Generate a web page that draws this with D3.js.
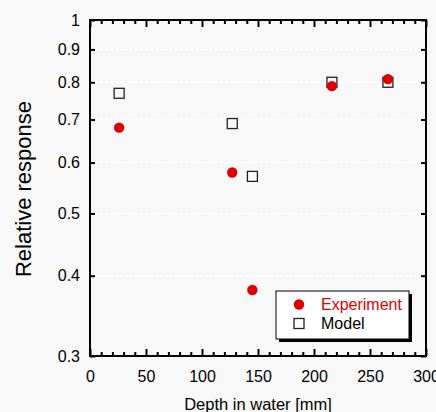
<!DOCTYPE html>
<html>
<head>
<meta charset="utf-8">
<script src="https://cdn.jsdelivr.net/npm/d3@7"></script>
<style>
  html, body { margin: 0; padding: 0; background: #f8f8f8; }
  svg { display: block; font-family: "Liberation Sans", Arial, sans-serif; }
</style>
</head>
<body>
<div id="chart"></div>
<script>
// data
const depths = [26, 127, 145, 216, 266];
const experiment = [0.68, 0.579, 0.38, 0.789, 0.809];
const model = [0.769, 0.69, 0.571, 0.80, 0.80];
const xTicks = [0, 50, 100, 150, 200, 250, 300];
const yTicks = [0.3, 0.4, 0.5, 0.6, 0.7, 0.8, 0.9, 1];
const legendLabels = ["Experiment", "Model"];

const size = {width: 436, height: 412};
const margin = {top: 20, right: 10, bottom: 56, left: 90};
const width = size.width - margin.left - margin.right;
const height = size.height - margin.top - margin.bottom;
const red = "#e00000";

const svg = d3.select("#chart").append("svg")
    .attr("width", size.width)
    .attr("height", size.height);

svg.append("rect")
    .attr("width", size.width)
    .attr("height", size.height)
    .attr("fill", "#f8f8f8");

const g = svg.append("g")
    .attr("transform", "translate(" + margin.left + "," + margin.top + ")");

const xScale = d3.scaleLinear().domain([0, 300]).range([0, width]);
const yScale = d3.scaleLog().domain([0.3, 1]).range([height, 0]);

// dashed white grid lines at the y ticks
g.append("g").selectAll("line")
    .data(yTicks.filter(d => d > 0.3 && d < 1))
    .join("line")
    .attr("x1", 0)
    .attr("x2", width)
    .attr("y1", d => yScale(d))
    .attr("y2", d => yScale(d))
    .attr("stroke", "#ffffff")
    .attr("stroke-width", 1.5)
    .attr("stroke-dasharray", "3,2");

// x axes (bottom + mirrored top), ticks inward
const minorX = d3.range(0, 301, 10).filter(d => d % 50 !== 0);
const drawX = (axisFn, y, labels) => {
    const major = g.append("g").attr("transform", "translate(0," + y + ")")
        .call(axisFn(xScale).tickValues(xTicks).tickSize(-7).tickPadding(16)
            .tickFormat(labels ? d3.format("d") : ""));
    const minor = g.append("g").attr("transform", "translate(0," + y + ")")
        .call(axisFn(xScale).tickValues(minorX).tickSize(-4).tickFormat(""));
    [major, minor].forEach(a => {
        a.select(".domain").remove();
        a.selectAll("line").attr("stroke", "#000").attr("stroke-width", 2);
    });
    return major;
};
const xBottom = drawX(d3.axisBottom, height, true);
xBottom.selectAll("text")
    .attr("font-size", 16)
    .attr("fill", "#000")
    .attr("dy", "0.71em")
    .attr("y", 15);
drawX(d3.axisTop, 0, false);

// y axes (left + mirrored right)
const yLeft = g.append("g")
    .call(d3.axisLeft(yScale).tickValues(yTicks).tickSize(-5).tickPadding(10)
        .tickFormat(d3.format("")));
yLeft.select(".domain").remove();
yLeft.selectAll("line").attr("stroke", "#000").attr("stroke-width", 2);
yLeft.selectAll("text").attr("font-size", 16).attr("fill", "#000");

const yRight = g.append("g").attr("transform", "translate(" + width + ",0)")
    .call(d3.axisRight(yScale).tickValues(yTicks).tickSize(-5).tickFormat(""));
yRight.select(".domain").remove();
yRight.selectAll("line").attr("stroke", "#000").attr("stroke-width", 2);

// frame
g.append("rect")
    .attr("width", width)
    .attr("height", height)
    .attr("fill", "none")
    .attr("stroke", "#000")
    .attr("stroke-width", 2);

// axis labels
g.append("text")
    .attr("x", width / 2)
    .attr("y", height + 54)
    .attr("text-anchor", "middle")
    .attr("font-size", 16.5)
    .text("Depth in water [mm]");

g.append("text")
    .attr("transform", "translate(" + (31 - margin.left) + "," + (height / 2 + 1) + ") rotate(-90)")
    .attr("text-anchor", "middle")
    .attr("font-size", 22)
    .text("Relative response");

// model squares, then experiment circles on top
const sq = 10;
g.append("g").selectAll("rect")
    .data(depths.map((d, i) => [d, model[i]]))
    .join("rect")
    .attr("x", d => xScale(d[0]) - sq / 2)
    .attr("y", d => yScale(d[1]) - sq / 2)
    .attr("width", sq)
    .attr("height", sq)
    .attr("fill", "none")
    .attr("stroke", "#222")
    .attr("stroke-width", 1.3);

g.append("g").selectAll("circle")
    .data(depths.map((d, i) => [d, experiment[i]]))
    .join("circle")
    .attr("cx", d => xScale(d[0]))
    .attr("cy", d => yScale(d[1]))
    .attr("r", 5.2)
    .attr("fill", red);

// legend
const lg = svg.append("g").attr("transform", "translate(276,291)");
lg.append("rect")
    .attr("x", 3).attr("y", 3)
    .attr("width", 133).attr("height", 48)
    .attr("fill", "#000");
lg.append("rect")
    .attr("width", 133).attr("height", 48)
    .attr("fill", "#fff")
    .attr("stroke", "#000")
    .attr("stroke-width", 1);
lg.append("circle")
    .attr("cx", 23).attr("cy", 13.5)
    .attr("r", 5.2)
    .attr("fill", red);
lg.append("rect")
    .attr("x", 18).attr("y", 27.5)
    .attr("width", sq).attr("height", sq)
    .attr("fill", "none")
    .attr("stroke", "#222")
    .attr("stroke-width", 1.3);
lg.selectAll("text.lab")
    .data(legendLabels)
    .join("text")
    .attr("class", "lab")
    .attr("x", 45)
    .attr("y", (d, i) => 19 + i * 19)
    .attr("font-size", 16)
    .attr("fill", (d, i) => i === 0 ? red : "#000")
    .text(d => d);
</script>
</body>
</html>
